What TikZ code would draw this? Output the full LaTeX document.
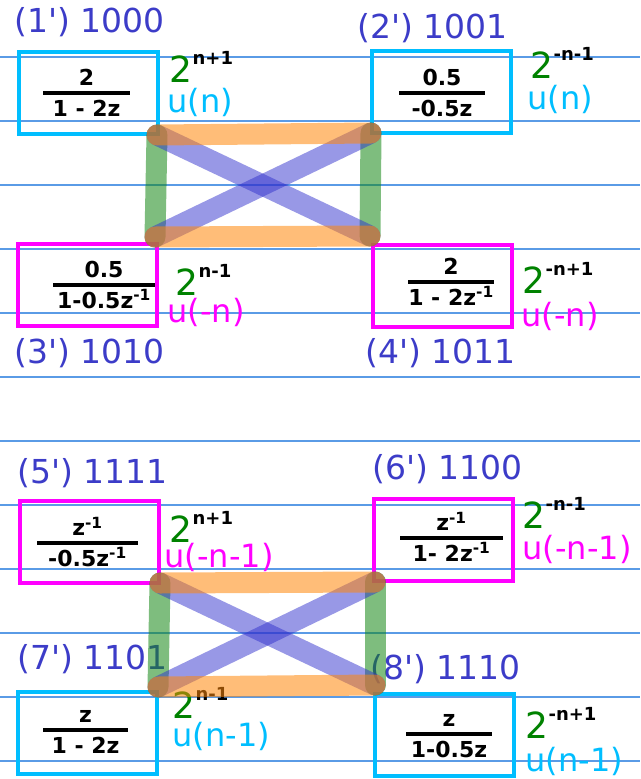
\documentclass[tikz,border=0pt]{standalone}
\usepackage{fontspec}
\setmainfont{DejaVu Sans}
\usepackage{xcolor}
\usepackage{tikz}
\usetikzlibrary{positioning}
\definecolor{RuleBlue}{RGB}{90,155,230}
\definecolor{BoxCyan}{RGB}{0,190,255}
\definecolor{BoxMagenta}{RGB}{255,0,255}
\definecolor{LabelBlue}{RGB}{60,60,200}
\definecolor{PowGreen}{RGB}{0,130,0}
\definecolor{BandOrange}{RGB}{255,135,10}
\definecolor{BandGreen}{RGB}{20,135,20}
\definecolor{BandBlue}{RGB}{50,50,205}
\newcommand{\pw}[1]{{\color{PowGreen}\fontsize{36}{36}\selectfont 2}\raisebox{18pt}{\fontsize{18}{18}\selectfont\bfseries #1}}
\newcommand{\zi}{z\textsuperscript{-1}}
\tikzset{
  cbox/.style={draw=BoxCyan, line width=4pt, minimum width=139pt, minimum height=82pt, inner sep=0pt},
  mbox/.style={cbox, draw=BoxMagenta},
  idlabel/.style={anchor=base west, inner sep=0pt, text=LabelBlue, font=\fontsize{33}{36}\selectfont},
  powlabel/.style={anchor=base west, inner sep=0pt, text depth=0pt},
  unitlabel/.style={anchor=base west, inner sep=0pt, font=\fontsize{32}{36}\selectfont},
  fracbar/.style={fill=black, inner sep=0pt, minimum height=3.5pt},
  fracnum/.style={inner sep=0pt, font=\fontsize{22}{24}\selectfont\bfseries, text depth=0pt},
  fracden/.style={inner sep=0pt, font=\fontsize{22}{24}\selectfont\bfseries, text height=16pt},
  band/.style={line width=21pt, line cap=round, opacity=0.55}
}

\begin{document}
\begin{tikzpicture}[x=1pt, y=-1pt]
  \useasboundingbox (0,0) rectangle (640,779);
  \foreach \k in {0,...,11}
    \draw[RuleBlue, line width=1.2pt] (0,57+64*\k) -- (640,57+64*\k);

  \node[cbox] (b1) at (88,93) {};
  \node[cbox] (b2) at (441.5,91.5) {};
  \node[mbox] (b3) at (87,284.5) {};
  \node[mbox] (b4) at (442.5,286) {};
  \node[mbox] (b5) at (89.5,541.5) {};
  \node[mbox] (b6) at (443.5,540) {};
  \node[cbox] (b7) at (87.5,733) {};
  \node[cbox] (b8) at (444.5,734.5) {};

  \foreach \i/\x/\y/\w/\num/\den in {
    1/86.5/93/87/2/{1 - 2z},
    2/442/93/86/0.5/{-0.5z},
    3/104/285/102/0.5/{1-0.5\zi},
    4/451/282/86/2/{1 - 2\zi},
    5/87.5/543/101/\zi/{-0.5\zi},
    6/451.5/538/103/\zi/{1- 2\zi},
    7/85.5/730/85/z/{1 - 2z},
    8/449/734/86/z/{1-0.5z}}
  {
    \node[fracbar, minimum width=\w] (r\i) at (\x,\y) {};
    \node[fracnum, above=5pt of r\i] (n\i) {\num};
    \node[fracden, below=5pt of r\i] (d\i) {\den};
  }

  \node[idlabel] (l1) at (14,32) {(1\textquotesingle) 1000};
  \node[idlabel] (l2) at (357,38) {(2\textquotesingle) 1001};
  \node[idlabel] (l3) at (14,363) {(3\textquotesingle) 1010};
  \node[idlabel] (l4) at (365,363) {(4\textquotesingle) 1011};
  \node[idlabel] (l5) at (17,483) {(5\textquotesingle) 1111};
  \node[idlabel] (l6) at (372,479) {(6\textquotesingle) 1100};
  \node[idlabel] (l7) at (17,669) {(7\textquotesingle) 1101};
  \node[idlabel] (l8) at (370,679) {(8\textquotesingle) 1110};

  \node[powlabel] (p1) at (169.5,82) {\pw{n+1}};
  \node[powlabel] (p2) at (530.5,78) {\pw{-n-1}};
  \node[powlabel] (p3) at (175.5,295) {\pw{n-1}};
  \node[powlabel] (p4) at (522.5,293) {\pw{-n+1}};
  \node[powlabel] (p5) at (169.5,542) {\pw{n+1}};
  \node[powlabel] (p6) at (522.5,528) {\pw{-n-1}};
  \node[powlabel] (p7) at (172.5,718) {\pw{n-1}};
  \node[powlabel] (p8) at (525.5,738) {\pw{-n+1}};

  \node[unitlabel, text=BoxCyan] (u1) at (167.3,112) {u(n)};
  \node[unitlabel, text=BoxCyan] (u2) at (527.3,109) {u(n)};
  \node[unitlabel, text=BoxMagenta] (u3) at (167.3,322) {u(-n)};
  \node[unitlabel, text=BoxMagenta] (u4) at (521.3,326) {u(-n)};
  \node[unitlabel, text=BoxMagenta] (u5) at (164.3,567) {u(-n-1)};
  \node[unitlabel, text=BoxMagenta] (u6) at (522.3,559) {u(-n-1)};
  \node[unitlabel, text=BoxCyan] (u7) at (172.3,746) {u(n-1)};
  \node[unitlabel, text=BoxCyan] (u8) at (525.3,771) {u(n-1)};

  \coordinate (tnw) at (157,135);
  \coordinate (tne) at (371,133);
  \coordinate (tsw) at (155,237);
  \coordinate (tse) at (370,236);
  \coordinate (lnw) at (160,583);
  \coordinate (lne) at (375,582);
  \coordinate (lsw) at (158,687);
  \coordinate (lse) at (375,685);

  \foreach \g in {t,l} {
    \draw[band, BandGreen] (\g nw) -- (\g sw);
    \draw[band, BandGreen] (\g ne) -- (\g se);
    \draw[band, BandBlue, opacity=0.5] (\g nw) -- (\g se);
    \draw[band, BandBlue, opacity=0.5] (\g ne) -- (\g sw);
    \draw[band, BandOrange] (\g nw) -- (\g ne);
    \draw[band, BandOrange] (\g sw) -- (\g se);
  }
\end{tikzpicture}
\end{document}
